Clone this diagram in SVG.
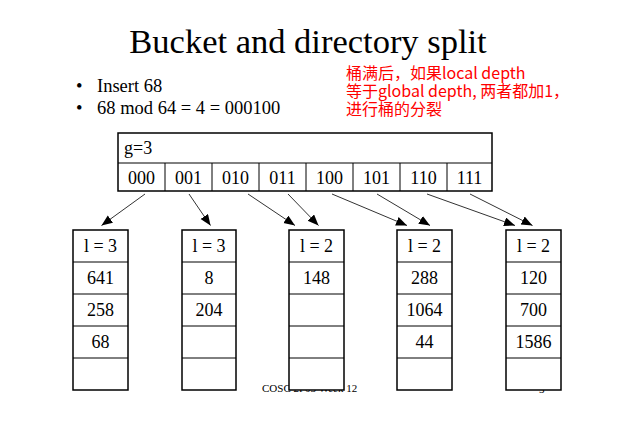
<svg xmlns="http://www.w3.org/2000/svg" width="620" height="422" viewBox="0 0 620 422">
<style>
.tm{font-family:"Liberation Serif","Times New Roman",serif;fill:#000}
.cell{fill:#fff;stroke:#000;stroke-width:1.5}
.inner{stroke:#000;stroke-width:1}
.lbl{font-family:"Liberation Serif","Times New Roman",serif;font-size:18px;text-anchor:middle;fill:#000}
.red{font-family:"Noto Sans CJK SC","Noto Sans",sans-serif;font-size:16px;fill:#ff0000}
.conn{stroke:#333;stroke-width:1;fill:none;marker-end:url(#ah)}
</style>
<defs>
<marker id="ah" markerUnits="userSpaceOnUse" markerWidth="12" markerHeight="10" refX="11" refY="4.5" orient="auto">
<path d="M0,0 L11,4.5 L0,9 z" fill="#000"/>
</marker>
</defs>
<rect width="620" height="422" fill="#fff"/>
<text class="tm" x="308" y="53" font-size="34.5" text-anchor="middle">Bucket and directory split</text>
<g id="bullets">
<text class="tm" x="76" y="92" font-size="18.5">•</text>
<text class="tm" x="97" y="92" font-size="18.5">Insert 68</text>
<text class="tm" x="76" y="114" font-size="18.5">•</text>
<text class="tm" x="97" y="114" font-size="18.5">68 mod 64 = 4 = 000100</text>
</g>
<g id="note">
<text class="red" x="346" y="79">桶满后，如果local depth</text>
<text class="red" x="346" y="97">等于global depth, 两者都加1，</text>
<text class="red" x="346" y="115">进行桶的分裂</text>
</g>
<g id="footer">
<text class="tm" x="262" y="392" font-size="11">COSC 2P03 Week 12</text>
<text class="tm" x="539" y="393" font-size="11">3</text>
</g>
<g id="directory">
<rect class="cell" x="118" y="133" width="374" height="58"/>
<line class="inner" x1="118" y1="163" x2="492" y2="163"/>
<line class="inner" x1="165" y1="163" x2="165" y2="191"/>
<line class="inner" x1="212" y1="163" x2="212" y2="191"/>
<line class="inner" x1="259" y1="163" x2="259" y2="191"/>
<line class="inner" x1="306" y1="163" x2="306" y2="191"/>
<line class="inner" x1="353" y1="163" x2="353" y2="191"/>
<line class="inner" x1="400" y1="163" x2="400" y2="191"/>
<line class="inner" x1="447" y1="163" x2="447" y2="191"/>
<text class="tm" x="124" y="154" font-size="18">g=3</text>
<text class="lbl" x="141.5" y="184">000</text>
<text class="lbl" x="188.5" y="184">001</text>
<text class="lbl" x="235.5" y="184">010</text>
<text class="lbl" x="282.5" y="184">011</text>
<text class="lbl" x="329.5" y="184">100</text>
<text class="lbl" x="376.5" y="184">101</text>
<text class="lbl" x="423.5" y="184">110</text>
<text class="lbl" x="469.5" y="184">111</text>
</g>
<g id="connectors">
<line class="conn" x1="145" y1="194" x2="101.5" y2="225.5"/>
<line class="conn" x1="189" y1="194" x2="210.5" y2="225.5"/>
<line class="conn" x1="248" y1="194" x2="295" y2="225.5"/>
<line class="conn" x1="288" y1="194" x2="318.5" y2="225.5"/>
<line class="conn" x1="332" y1="194" x2="407" y2="225.5"/>
<line class="conn" x1="377" y1="194" x2="430" y2="225.5"/>
<line class="conn" x1="427" y1="194" x2="515" y2="225.5"/>
<line class="conn" x1="470" y1="194" x2="532.5" y2="225.5"/>
</g>
<g id="bucket1">
<rect class="cell" x="73" y="230" width="55" height="160"/>
<line class="inner" x1="73" y1="262" x2="128" y2="262"/>
<line class="inner" x1="73" y1="294" x2="128" y2="294"/>
<line class="inner" x1="73" y1="326" x2="128" y2="326"/>
<line class="inner" x1="73" y1="358" x2="128" y2="358"/>
<text class="lbl" x="100.5" y="251.5">l = 3</text>
<text class="lbl" x="100.5" y="283.5">641</text>
<text class="lbl" x="100.5" y="315.5">258</text>
<text class="lbl" x="100.5" y="347.5">68</text>
</g>
<g id="bucket2">
<rect class="cell" x="182" y="230" width="54" height="160"/>
<line class="inner" x1="182" y1="262" x2="236" y2="262"/>
<line class="inner" x1="182" y1="294" x2="236" y2="294"/>
<line class="inner" x1="182" y1="326" x2="236" y2="326"/>
<line class="inner" x1="182" y1="358" x2="236" y2="358"/>
<text class="lbl" x="209" y="251.5">l = 3</text>
<text class="lbl" x="209" y="283.5">8</text>
<text class="lbl" x="209" y="315.5">204</text>
</g>
<g id="bucket3">
<rect class="cell" x="289" y="230" width="55" height="160"/>
<line class="inner" x1="289" y1="262" x2="344" y2="262"/>
<line class="inner" x1="289" y1="294" x2="344" y2="294"/>
<line class="inner" x1="289" y1="326" x2="344" y2="326"/>
<line class="inner" x1="289" y1="358" x2="344" y2="358"/>
<text class="lbl" x="316.5" y="251.5">l = 2</text>
<text class="lbl" x="316.5" y="283.5">148</text>
</g>
<g id="bucket4">
<rect class="cell" x="397" y="230" width="55" height="160"/>
<line class="inner" x1="397" y1="262" x2="452" y2="262"/>
<line class="inner" x1="397" y1="294" x2="452" y2="294"/>
<line class="inner" x1="397" y1="326" x2="452" y2="326"/>
<line class="inner" x1="397" y1="358" x2="452" y2="358"/>
<text class="lbl" x="424.5" y="251.5">l = 2</text>
<text class="lbl" x="424.5" y="283.5">288</text>
<text class="lbl" x="424.5" y="315.5">1064</text>
<text class="lbl" x="424.5" y="347.5">44</text>
</g>
<g id="bucket5">
<rect class="cell" x="506" y="230" width="55" height="160"/>
<line class="inner" x1="506" y1="262" x2="561" y2="262"/>
<line class="inner" x1="506" y1="294" x2="561" y2="294"/>
<line class="inner" x1="506" y1="326" x2="561" y2="326"/>
<line class="inner" x1="506" y1="358" x2="561" y2="358"/>
<text class="lbl" x="533.5" y="251.5">l = 2</text>
<text class="lbl" x="533.5" y="283.5">120</text>
<text class="lbl" x="533.5" y="315.5">700</text>
<text class="lbl" x="533.5" y="347.5">1586</text>
</g>
</svg>
